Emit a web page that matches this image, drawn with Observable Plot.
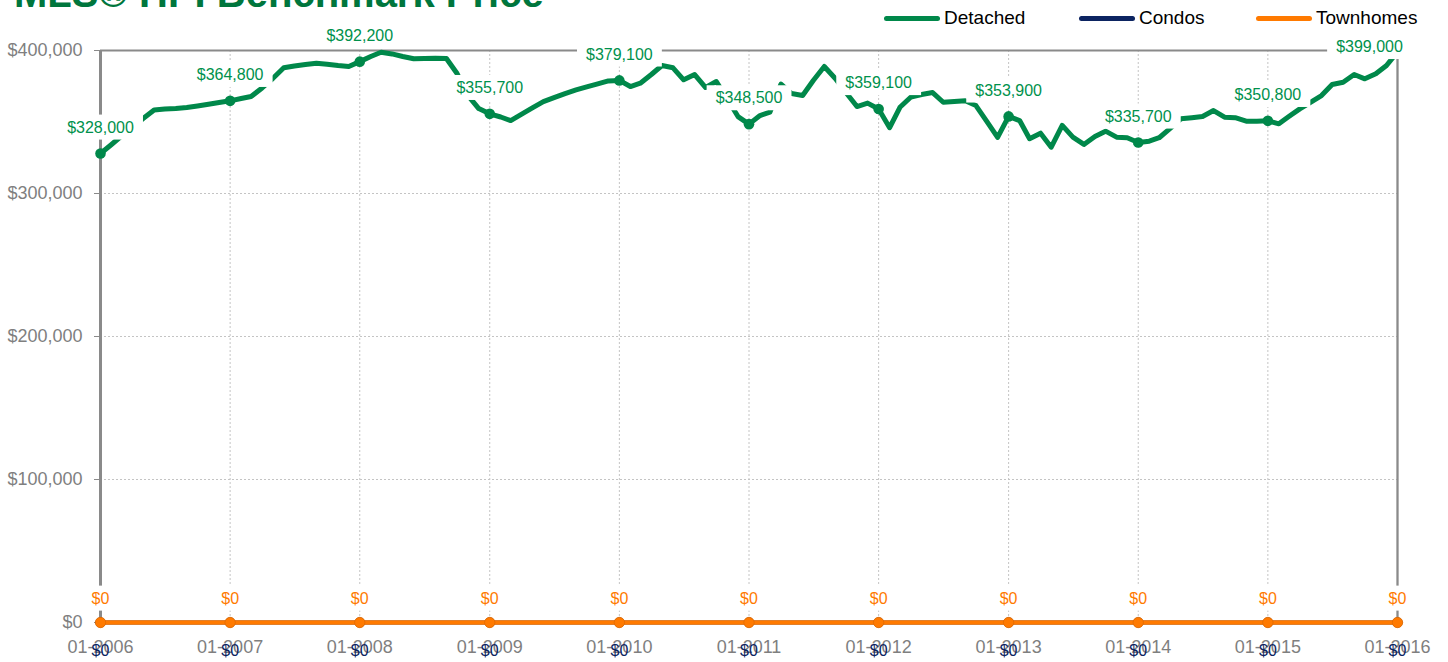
<!DOCTYPE html>
<html><head><meta charset="utf-8">
<script src="https://cdn.jsdelivr.net/npm/d3@7"></script>
<script src="https://cdn.jsdelivr.net/npm/@observablehq/plot@0.6"></script>
<style>
body{margin:0;background:#fff;font-family:"Liberation Sans",Arial,Helvetica,sans-serif;}
#wrap{position:relative;width:1448px;height:662px;overflow:hidden;background:#fff;}
#chart{position:absolute;left:0;top:0;}
#title{position:absolute;left:14px;top:-27px;font-size:40px;font-weight:bold;color:#00763d;white-space:nowrap;line-height:40px;}
.leg{position:absolute;top:7px;font-size:19px;line-height:22px;color:#000;display:flex;align-items:center;white-space:nowrap;}
.sw{width:56px;height:5px;border-radius:3px;margin-right:4px;}
</style></head><body>
<div id="wrap">
<div id="chart"></div>
<div id="title">MLS® HPI Benchmark Price</div>
<div class="leg" style="left:884px"><div class="sw" style="background:#00884a"></div>Detached</div>
<div class="leg" style="left:1079px"><div class="sw" style="background:#0c2461"></div>Condos</div>
<div class="leg" style="left:1256px"><div class="sw" style="background:#ff7a00"></div>Townhomes</div>
</div>
<script>
// ---- data ----
const years = [2006,2007,2008,2009,2010,2011,2012,2013,2014,2015,2016];
// Detached monthly benchmark price, Jan 2006 .. Jan 2016
const detached = [
 328000,334300,340200,346200,352400,358400,359100,359400,360100,361200,362400,363600,
 364800,366400,367800,373800,380400,387900,389200,390200,391100,390400,389500,388800,
 392200,395800,398800,397600,395800,394200,394400,394500,394400,383900,368500,359400,
 355700,353500,351000,355500,359900,364300,367100,369900,372400,374500,376600,378700,
 379100,374800,377100,383200,389500,387900,379500,383200,374100,378300,366100,353800,
 348500,354500,356900,376500,369900,368500,379000,388800,380400,370600,360800,363200,
 359100,346000,360300,367500,369200,370600,363800,364300,364800,361500,350300,339200,
 353900,351000,338300,342200,332400,347600,339400,334300,339900,343600,339400,339000,
 335700,336600,339000,345600,352200,353000,353800,358000,353400,353000,350600,350600,
 350800,348700,353800,359200,363800,368500,376200,377800,383200,380200,383700,389500,
 399000
];
// Condos and Townhomes, January of each year
const condos     = [0,0,0,0,0,0,0,0,0,0,0];
const townhomes  = [0,0,0,0,0,0,0,0,0,0,0];
const yTicks = [0,100000,200000,300000,400000];

// ---- tables ----
const detRows = detached.map((v,i)=>({date:new Date(Date.UTC(2006,i,1)), value:v, jan:i%12===0}));
const detJan = detRows.filter(d=>d.jan);
const yearDates = years.map(y=>new Date(Date.UTC(y,0,1)));
const condoRows = years.map((y,i)=>({date:yearDates[i], value:condos[i]}));
const townRows = years.map((y,i)=>({date:yearDates[i], value:townhomes[i]}));
const money = v => "$" + d3.format(",")(v);

const GREEN="#00884a", GREEN_T="#00914c", NAVY="#0c2461", ORANGE="#ff7a00", AX="#8a8a8a", GRID="#c4c4c4";

const chart = Plot.plot({
  width:1448, height:662,
  marginLeft:100, marginRight:51, marginTop:50, marginBottom:40,
  x:{type:"utc", domain:[yearDates[0], yearDates[yearDates.length-1]]},
  y:{domain:[0,400000]},
  style:{fontFamily:'"Liberation Sans",Arial,Helvetica,sans-serif', fontSize:"18px", color:"#7f7f7f", background:"transparent", overflow:"visible"},
  marks:[
    Plot.ruleY(yTicks.slice(1,-1), {stroke:GRID, strokeDasharray:"2,2", strokeWidth:1}),
    Plot.ruleX(yearDates.slice(1,-1), {stroke:GRID, strokeDasharray:"2,2", strokeWidth:1}),
    Plot.axisX({ticks:yearDates, tickFormat:d3.utcFormat("%m-%Y"), tickSize:0, tickPadding:18, label:null, fontSize:18}),
    Plot.axisY({ticks:yTicks, tickFormat:money, tickSize:6, tickPadding:12, label:null, fontSize:18, stroke:AX}),
    Plot.ruleY([400000], {stroke:AX, strokeWidth:2}),
    Plot.ruleX([yearDates[yearDates.length-1]], {stroke:AX, strokeWidth:2.3}),
    Plot.ruleX([yearDates[0]], {stroke:AX, strokeWidth:3}),
    Plot.line(condoRows, {x:"date", y:"value", stroke:NAVY, strokeWidth:4}),
    Plot.dot(condoRows, {x:"date", y:"value", r:5, fill:NAVY}),
    Plot.line(townRows, {x:"date", y:"value", stroke:ORANGE, strokeWidth:4.3}),
    Plot.dot(townRows, {x:"date", y:"value", r:5.2, fill:ORANGE, stroke:"#e06a00", strokeWidth:0.8}),
    Plot.line(detRows, {x:"date", y:"value", stroke:GREEN, strokeWidth:5, strokeLinejoin:"round"}),
    Plot.dot(detJan, {x:"date", y:"value", r:5.3, fill:GREEN}),
    Plot.text(detJan.slice(0,-1), {x:"date", y:"value", text:d=>money(d.value), dy:-26, fill:GREEN_T, fontSize:16}),
    Plot.text(detJan.slice(-1), {x:"date", y:"value", text:d=>money(d.value), dy:-5, dx:-28, fill:GREEN_T, fontSize:16}),
    Plot.text(townRows, {x:"date", y:"value", text:d=>money(d.value), dy:-24, fill:ORANGE, fontSize:16}),
    Plot.text(condoRows, {x:"date", y:"value", text:d=>money(d.value), dy:28, fill:NAVY, fontSize:16})
  ]
});
document.getElementById("chart").append(chart);

// white label boxes behind data labels (Excel-style); condo labels sit over the axis without a box
const ns = "http://www.w3.org/2000/svg";
chart.querySelectorAll('g[aria-label="text"] text').forEach(t=>{
  const g = t.parentNode;
  if ((g.getAttribute("fill")||"").toLowerCase() === NAVY) return;
  const b = t.getBBox();
  const r = document.createElementNS(ns,"rect");
  r.setAttribute("x", b.x-9); r.setAttribute("y", b.y-4);
  r.setAttribute("width", b.width+18); r.setAttribute("height", b.height+8);
  r.setAttribute("fill","#fff");
  const tr = t.getAttribute("transform"); if (tr) r.setAttribute("transform", tr);
  g.insertBefore(r, t);
});
</script>
</body></html>
